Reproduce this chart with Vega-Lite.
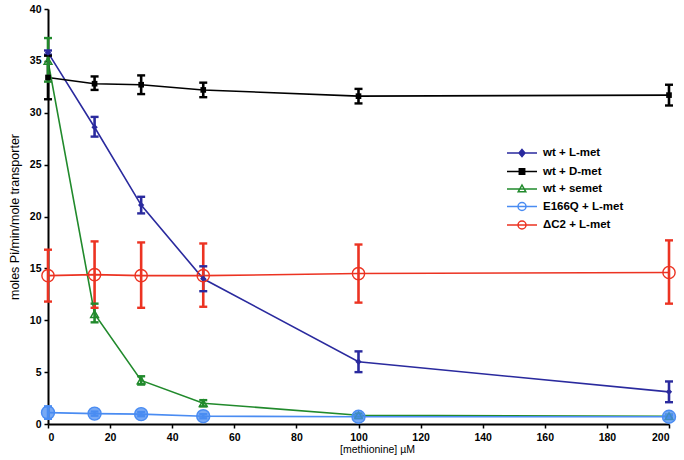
{
  "$schema": "https://vega.github.io/schema/vega-lite/v6.json",
  "width": 621,
  "height": 415,
  "autosize": "none",
  "padding": {"left": 48, "top": 9, "right": 15, "bottom": 36},
  "background": "white",
  "config": {
    "view": {"stroke": null},
    "font": "Liberation Sans",
    "axis": {"grid": false, "domainColor": "black", "domainWidth": 2, "tickColor": "black", "tickWidth": 1.5, "tickSize": 4, "labelFont": "Liberation Sans", "labelFontWeight": "bold", "labelFontSize": 10.5, "labelColor": "black", "titleFont": "Liberation Sans", "titleFontWeight": "normal", "titleColor": "black"}
  },
  "data": {"values": [
    {"series": "wt + L-met", "conc": 0, "v": 35.8, "lo": 35.6, "hi": 36.0},
    {"series": "wt + L-met", "conc": 15, "v": 28.6, "lo": 27.7, "hi": 29.6},
    {"series": "wt + L-met", "conc": 30, "v": 21.1, "lo": 20.3, "hi": 21.9},
    {"series": "wt + L-met", "conc": 50, "v": 14.0, "lo": 12.8, "hi": 15.2},
    {"series": "wt + L-met", "conc": 100, "v": 6.0, "lo": 5.0, "hi": 7.0},
    {"series": "wt + L-met", "conc": 200, "v": 3.1, "lo": 2.1, "hi": 4.1},
    {"series": "wt + D-met", "conc": 0, "v": 33.4, "lo": 31.3, "hi": 35.5},
    {"series": "wt + D-met", "conc": 15, "v": 32.8, "lo": 32.2, "hi": 33.5},
    {"series": "wt + D-met", "conc": 30, "v": 32.7, "lo": 31.8, "hi": 33.6},
    {"series": "wt + D-met", "conc": 50, "v": 32.2, "lo": 31.5, "hi": 32.9},
    {"series": "wt + D-met", "conc": 100, "v": 31.6, "lo": 30.9, "hi": 32.3},
    {"series": "wt + D-met", "conc": 200, "v": 31.7, "lo": 30.7, "hi": 32.7},
    {"series": "wt + semet", "conc": 0, "v": 35.0, "lo": 33.0, "hi": 37.2},
    {"series": "wt + semet", "conc": 15, "v": 10.6, "lo": 9.8, "hi": 11.6},
    {"series": "wt + semet", "conc": 30, "v": 4.2, "lo": 3.8, "hi": 4.6},
    {"series": "wt + semet", "conc": 50, "v": 2.0, "lo": 1.7, "hi": 2.3},
    {"series": "wt + semet", "conc": 100, "v": 0.85, "lo": 0.7, "hi": 1.0},
    {"series": "wt + semet", "conc": 200, "v": 0.75, "lo": 0.6, "hi": 0.9},
    {"series": "E166Q + L-met", "conc": 0, "v": 1.1, "lo": 0.5, "hi": 1.7},
    {"series": "E166Q + L-met", "conc": 15, "v": 1.0, "lo": 0.8, "hi": 1.2},
    {"series": "E166Q + L-met", "conc": 30, "v": 0.95, "lo": 0.75, "hi": 1.15},
    {"series": "E166Q + L-met", "conc": 50, "v": 0.75, "lo": 0.55, "hi": 0.95},
    {"series": "E166Q + L-met", "conc": 100, "v": 0.7, "lo": 0.55, "hi": 0.85},
    {"series": "E166Q + L-met", "conc": 200, "v": 0.7, "lo": 0.55, "hi": 0.85},
    {"series": "ΔC2 + L-met", "conc": 0, "v": 14.3, "lo": 11.8, "hi": 16.8},
    {"series": "ΔC2 + L-met", "conc": 15, "v": 14.4, "lo": 11.2, "hi": 17.6},
    {"series": "ΔC2 + L-met", "conc": 30, "v": 14.3, "lo": 11.2, "hi": 17.5},
    {"series": "ΔC2 + L-met", "conc": 50, "v": 14.3, "lo": 11.3, "hi": 17.4},
    {"series": "ΔC2 + L-met", "conc": 100, "v": 14.5, "lo": 11.7, "hi": 17.3},
    {"series": "ΔC2 + L-met", "conc": 200, "v": 14.6, "lo": 11.6, "hi": 17.7}
  ]},
  "encoding": {
    "x": {"field": "conc", "type": "quantitative", "scale": {"domain": [0, 200], "nice": false}, "axis": {"values": [0,20,40,60,80,100,120,140,160,180,200], "title": "[methionine]  µM", "titleFontSize": 10.5, "titleX": 329, "titlePadding": 2, "labelPadding": 4}},
    "y": {"field": "v", "type": "quantitative", "scale": {"domain": [0, 40], "nice": false}, "axis": {"values": [0,5,10,15,20,25,30,35,40], "title": "moles Pi/min/mole transporter", "titleFontSize": 12.5, "titlePadding": 8, "labelPadding": 3}},
    "color": {"field": "series", "type": "nominal", "scale": {"domain": ["wt + L-met", "wt + D-met", "wt + semet", "E166Q + L-met", "ΔC2 + L-met"], "range": ["#2A2A9E", "#000000", "#218A2C", "#4A8CF2", "#EC3322"]}, "legend": null}
  },
  "resolve": {"legend": {"color": "independent", "shape": "independent", "fill": "independent", "size": "independent"}},
  "layer": [
    {"mark": {"type": "line", "strokeWidth": 1.6},
     "encoding": {"color": {"field": "series", "type": "nominal", "legend": {
        "title": null, "orient": "none", "legendX": 463, "legendY": 133, "symbolSize": 400, "rowPadding": 0.5, "labelOffset": 10,
        "labelFont": "Liberation Sans", "labelFontWeight": "bold", "labelFontSize": 11.5, "labelColor": "black",
        "symbolStrokeWidth": 1.5,
        "encode": {"symbols": {"update": {
          "shape": {"signal": "(datum.value==='wt + L-met' ? 'M-1.5,0H1.5M0,-0.35L0.3,0L0,0.35L-0.3,0Z' : datum.value==='wt + D-met' ? 'M-1.5,0H1.5M-0.27,-0.27H0.27V0.27H-0.27Z' : datum.value==='wt + semet' ? 'M-1.5,0H1.5M0,-0.4L0.38,0.28H-0.38Z' : 'M-1.5,0H1.5M0.4,0A0.4,0.4 0 1,1 -0.4,0A0.4,0.4 0 1,1 0.4,0Z')"},
          "fill": {"signal": "(datum.value==='wt + L-met' ? '#2A2A9E' : datum.value==='wt + D-met' ? '#000000' : 'transparent')"},
          "stroke": {"signal": "scale('color', datum.value)"},
          "strokeWidth": {"value": 1.5}
        }}}
     }}}},
    {"mark": {"type": "rule", "strokeWidth": 2.6},
     "encoding": {"y": {"field": "lo", "type": "quantitative"}, "y2": {"field": "hi"}}},
    {"mark": {"type": "tick", "orient": "horizontal", "size": 8, "thickness": 2.4, "opacity": 1},
     "encoding": {"y": {"field": "lo", "type": "quantitative"}}},
    {"mark": {"type": "tick", "orient": "horizontal", "size": 8, "thickness": 2.4, "opacity": 1},
     "encoding": {"y": {"field": "hi", "type": "quantitative"}}},
    {"transform": [{"filter": "datum.series === 'wt + L-met'"}],
     "mark": {"type": "point", "shape": "diamond", "filled": true, "size": 40, "opacity": 1}},
    {"transform": [{"filter": "datum.series === 'wt + D-met'"}],
     "mark": {"type": "point", "shape": "square", "filled": true, "size": 32, "opacity": 1}},
    {"transform": [{"filter": "datum.series === 'wt + semet'"}],
     "mark": {"type": "point", "shape": "triangle-up", "filled": false, "size": 60, "strokeWidth": 1.5, "opacity": 1}},
    {"transform": [{"filter": "datum.series === 'E166Q + L-met'"}],
     "mark": {"type": "point", "shape": "circle", "size": 170, "strokeWidth": 1.4, "opacity": 1, "fill": "#4A8CF2", "fillOpacity": 0.75}},
    {"transform": [{"filter": "datum.series === 'ΔC2 + L-met'"}],
     "mark": {"type": "point", "shape": "circle", "filled": false, "size": 150, "strokeWidth": 1.4, "opacity": 1}}
  ]
}
